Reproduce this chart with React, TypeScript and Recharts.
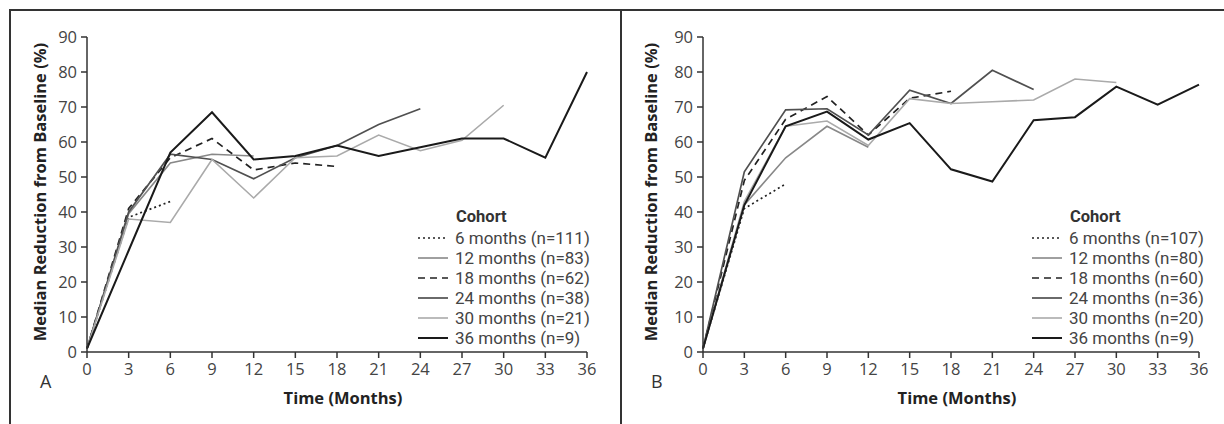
import { LineChart, Line, XAxis, YAxis } from "recharts";

const months = [0, 3, 6, 9, 12, 15, 18, 21, 24, 27, 30, 33, 36];
const yTicks = [0, 10, 20, 30, 40, 50, 60, 70, 80, 90];
const cohorts = ["6 months", "12 months", "18 months", "24 months", "30 months", "36 months"];
const countsA = [111, 83, 62, 38, 21, 9];
const countsB = [107, 80, 60, 36, 20, 9];

// panel A, median reduction (%) at each 3-month visit
const a6 = [1, 38.5, 43];
const a12 = [1, 39.5, 54, 56.5, 56];
const a18 = [1, 41, 55.5, 61, 52, 54, 53];
const a24 = [1, 40, 56.5, 55, 49.5, 55.5, 59, 65, 69.5];
const a30 = [1, 38, 37, 55, 44, 55.5, 56, 62, 57.5, 60.5, 70.5];
const a36 = [1, 29, 57, 68.5, 55, 56, 59, 56, 58.5, 61, 61, 55.5, 80];

// panel B
const b6 = [1, 41, 48];
const b12 = [1, 42, 55.5, 64.5, 58.5];
const b18 = [1, 49, 66.5, 73, 62, 72.5, 74.5];
const b24 = [1, 51.5, 69.2, 69.5, 62, 74.8, 71, 80.5, 75];
const b30 = [1, 43, 64.5, 66, 59, 72.4, 71, 71.5, 72, 78, 77];
const b36 = [1, 42, 64.5, 68.7, 60.7, 65.4, 52.2, 48.7, 66.2, 67.1, 75.8, 70.7, 76.4];

const styles = [
  { stroke: "#222", dash: "2 3", width: 1.7 },
  { stroke: "#888", dash: undefined, width: 1.6 },
  { stroke: "#222", dash: "7 5", width: 1.7 },
  { stroke: "#505050", dash: undefined, width: 1.7 },
  { stroke: "#aaa", dash: undefined, width: 1.6 },
  { stroke: "#1a1a1a", dash: undefined, width: 2 },
];

const FONT = "'Open Sans', sans-serif";
const LEGEND_FONT = "Roboto, 'Open Sans', sans-serif";

function toPoints(vals: number[]) {
  return vals.map((v, i) => ({ t: months[i], v }));
}

type PanelProps = {
  left: number;
  clip: number;
  axisX: number;
  axisRight: number;
  series: number[][];
  counts: number[];
  letter: string;
  titleX: number;
  legendLeft: number;
};

function Panel({ left, clip, axisX, axisRight, series, counts, letter, titleX, legendLeft }: PanelProps) {
  const chartW = 640;
  const right = chartW - (axisRight - left);
  const plotCx = (axisX + axisRight) / 2;
  return (
    <>
      <div style={{ position: "absolute", left, top: 11, width: clip - left, height: 413, overflow: "hidden" }}>
        <div style={{ position: "absolute", left: 0, top: -11 }}>
          <LineChart width={chartW} height={424} margin={{ top: 37, right, bottom: 42, left: 0 }}>
            <XAxis
              type="number"
              dataKey="t"
              domain={[0, 36]}
              ticks={months}
              interval={0}
              height={30}
              tickSize={6}
              tickMargin={5}
              axisLine={{ stroke: "#333", strokeWidth: 1.5 }}
              tickLine={{ stroke: "#333", strokeWidth: 1.5 }}
              tick={{ fill: "#444", fontSize: 16.5, fontFamily: FONT }}
              allowDuplicatedCategory={false}
            />
            <YAxis
              type="number"
              domain={[0, 90]}
              ticks={yTicks}
              interval={0}
              width={axisX - left}
              tickSize={6}
              tickMargin={4}
              axisLine={{ stroke: "#333", strokeWidth: 1.5 }}
              tickLine={{ stroke: "#333", strokeWidth: 1.5 }}
              tick={{ fill: "#444", fontSize: 16.5, fontFamily: FONT }}
            />
            {series.map((vals, i) => (
              <Line
                key={cohorts[i]}
                data={toPoints(vals)}
                dataKey="v"
                type="linear"
                stroke={styles[i].stroke}
                strokeWidth={styles[i].width}
                strokeDasharray={styles[i].dash}
                dot={false}
                activeDot={false}
                isAnimationActive={false}
              />
            ))}
          </LineChart>
        </div>
      </div>
      <div
        style={{
          position: "absolute",
          left: titleX - 160,
          top: 192 - 11,
          width: 320,
          height: 22,
          lineHeight: "22px",
          textAlign: "center",
          transform: "rotate(-90deg)",
          whiteSpace: "nowrap",
          fontFamily: FONT,
          fontWeight: 700,
          fontSize: 16.5,
          color: "#222",
        }}
      >
        Median Reduction from Baseline (%)
      </div>
      <div
        style={{
          position: "absolute",
          left: plotCx + 6 - 80,
          top: 398 - 11,
          width: 160,
          height: 22,
          lineHeight: "22px",
          textAlign: "center",
          whiteSpace: "nowrap",
          fontFamily: FONT,
          fontWeight: 700,
          fontSize: 16.5,
          color: "#222",
        }}
      >
        Time (Months)
      </div>
      <div
        style={{
          position: "absolute",
          left: titleX,
          top: 381 - 12,
          height: 24,
          lineHeight: "24px",
          fontFamily: FONT,
          fontSize: 18,
          color: "#333",
        }}
      >
        {letter}
      </div>
      <div style={{ position: "absolute", left: legendLeft, top: 206, fontFamily: LEGEND_FONT, color: "#444" }}>
        <div style={{ marginLeft: 38, height: 22, lineHeight: "22px", fontWeight: 700, fontSize: 16.5, color: "#333" }}>
          Cohort
        </div>
        {cohorts.map((c, i) => (
          <div key={c} style={{ display: "flex", alignItems: "center", height: 20, lineHeight: "20px", whiteSpace: "nowrap" }}>
            <svg width={30} height={6} style={{ marginRight: 7, flexShrink: 0 }}>
              <line
                x1={0}
                y1={3}
                x2={30}
                y2={3}
                stroke={styles[i].stroke}
                strokeWidth={styles[i].width}
                strokeDasharray={styles[i].dash}
              />
            </svg>
            <span style={{ fontSize: 17 }}>{`${c} (n=${counts[i]})`}</span>
          </div>
        ))}
      </div>
    </>
  );
}

export default function App() {
  return (
    <div style={{ position: "absolute", left: 0, top: 0, width: 1224, height: 424, background: "#fff", overflow: "hidden" }}>
      <div style={{ position: "absolute", left: 9, top: 9, width: 1215, height: 415, borderTop: "2px solid #333", borderLeft: "2px solid #333", boxSizing: "border-box" }} />
      <div style={{ position: "absolute", left: 620, top: 9, width: 2, height: 415, background: "#333" }} />
      <Panel
        left={11}
        clip={598}
        axisX={87}
        axisRight={587}
        series={[a6, a12, a18, a24, a30, a36]}
        counts={countsA}
        letter="A"
        titleX={40}
        legendLeft={418}
      />
      <Panel
        left={623}
        clip={1209}
        axisX={703}
        axisRight={1199}
        series={[b6, b12, b18, b24, b30, b36]}
        counts={countsB}
        letter="B"
        titleX={651}
        legendLeft={1032}
      />
    </div>
  );
}
